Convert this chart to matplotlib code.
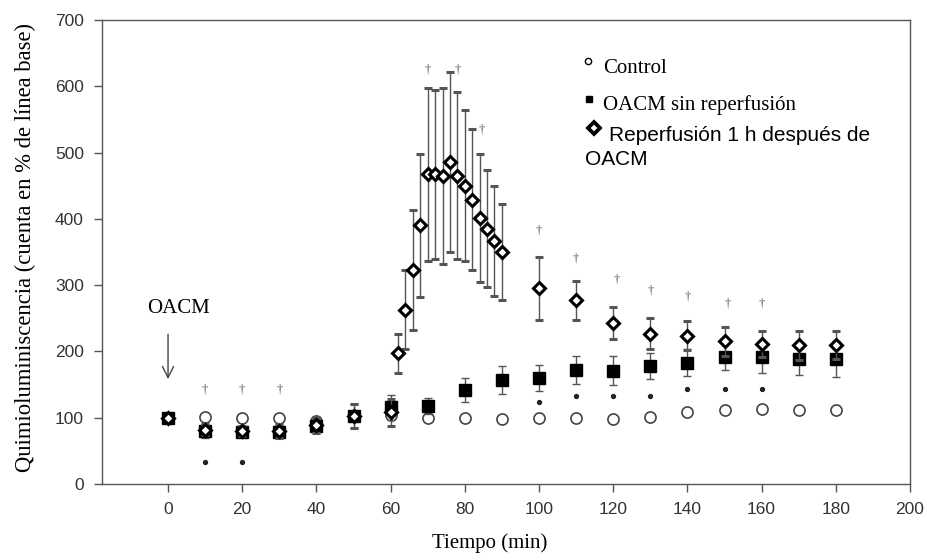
import numpy as np
import matplotlib
matplotlib.use("Agg")
import matplotlib.pyplot as plt
from matplotlib.lines import Line2D

# --- data ---
t_ctrl = [0, 10, 20, 30, 40, 50, 60, 70, 80, 90, 100, 110, 120, 130, 140, 150, 160, 170, 180]
ctrl = [100, 101, 99, 99, 95, 103, 104, 100, 99, 98, 100, 100, 98, 101, 108, 112, 113, 111, 112]

t_sq = [0, 10, 20, 30, 40, 50, 60, 70, 80, 90, 100, 110, 120, 130, 140, 150, 160, 170, 180]
sq = [100, 80, 79, 79, 88, 102, 116, 118, 142, 157, 160, 172, 171, 178, 183, 192, 191, 188, 189]
sq_err = [3, 10, 8, 10, 10, 18, 19, 12, 18, 21, 20, 21, 22, 20, 20, 20, 23, 24, 27]

t_di = [0, 10, 20, 30, 40, 50, 60, 62, 64, 66, 68, 70, 72, 74, 76, 78, 80, 82, 84, 86, 88, 90,
        100, 110, 120, 130, 140, 150, 160, 170, 180]
di = [100, 82, 80, 80, 89, 103, 108, 197, 263, 323, 390, 467, 467, 465, 486, 465, 450, 429, 401,
      385, 366, 350, 295, 277, 243, 227, 224, 215, 211, 209, 210]
di_err = [3, 8, 8, 10, 12, 18, 20, 30, 60, 90, 108, 130, 127, 133, 136, 126, 114, 106, 97, 88,
          83, 72, 47, 30, 24, 23, 22, 22, 20, 22, 21]

dag_x = [10, 20, 30, 70, 78, 84.5, 100, 110, 121, 130, 140, 151, 160]
dag_y = [142, 142, 142, 625, 625, 535, 382, 340, 309, 292, 283, 272, 272]

dot_x = [10, 20, 100, 110, 120, 130, 140, 150, 160]
dot_y = [33, 33, 124, 133, 133, 133, 144, 144, 144]

xticks = list(range(0, 201, 20))
yticks = list(range(0, 701, 100))

W, H = 926, 553
fig = plt.figure(figsize=(W / 100, H / 100), dpi=100)
ax = fig.add_axes([102 / W, 1 - 484 / H, (910 - 102) / W, (484 - 20) / H])

serif = ["Liberation Serif", "DejaVu Serif"]
sans = ["Liberation Sans", "DejaVu Sans"]

ax.plot(t_ctrl, ctrl, 'o', ms=8, mfc='white', mec='#444444', mew=1.2, zorder=3)
ax.errorbar(t_sq, sq, yerr=sq_err, fmt='s', ms=8, mfc='black', mec='black',
            ecolor='#555555', elinewidth=1, capsize=3, capthick=1, zorder=4)
ax.errorbar(t_di, di, yerr=di_err, fmt='D', ms=5.8, mfc='white', mec='black', mew=2.2,
            ecolor='#555555', elinewidth=1, capsize=3, capthick=1, zorder=5)

for x, y in zip(dag_x, dag_y):
    ax.text(x, y, "\u2020", fontsize=9, color='#555555', ha='center', va='center',
            family=serif)
ax.plot(dot_x, dot_y, 'o', ms=2.8, color='#222222', zorder=6)

ax.annotate("", xy=(0, 154), xytext=(0, 230),
            arrowprops=dict(arrowstyle='->', lw=1, color='#444444', mutation_scale=20))
ax.text(2.7, 265, "OACM", fontsize=15, family=serif, ha='center', va='center')

ax.set_xlim(-17.8, 200)
ax.set_ylim(0, 700)
ax.set_xticks(xticks)
ax.set_yticks(yticks)
for s in ax.spines.values():
    s.set_color('#555555')
    s.set_linewidth(1)
ax.tick_params(direction='out', length=6, width=1, color='#555555',
               labelsize=12.5, labelcolor='#333333', pad=7)
for lab in ax.get_xticklabels() + ax.get_yticklabels():
    lab.set_family(sans)

fig.text(490 / W, 1 - 543 / H, "Tiempo (min)", fontsize=15, family=serif,
         ha='center', va='center')
fig.text(25 / W, 1 - 248 / H, "Quimioluminiscencia (cuenta en % de l\u00ednea base)",
         fontsize=16.3, family=serif, rotation=90, ha='center', va='center')

# legend drawn by hand to keep the original wrapping
fig.add_artist(Line2D([588 / W], [1 - 61 / H], marker='o', ms=4.5, mfc='white',
                      mec='black', mew=1, transform=fig.transFigure))
fig.text(603 / W, 1 - 72.7 / H, "Control", fontsize=15, family=serif, va='baseline')
fig.add_artist(Line2D([589 / W], [1 - 99 / H], marker='s', ms=5, mfc='black',
                      mec='black', transform=fig.transFigure))
fig.text(603 / W, 1 - 110 / H, "OACM sin reperfusi\u00f3n", fontsize=15, family=serif,
         va='baseline')
fig.add_artist(Line2D([594 / W], [1 - 128 / H], marker='D', ms=6.5, mfc='white',
                      mec='black', mew=2.7, transform=fig.transFigure))
fig.text(609 / W, 1 - 141 / H, "Reperfusi\u00f3n 1 h despu\u00e9s de", fontsize=15,
         family=sans, va='baseline')
fig.text(585 / W, 1 - 165 / H, "OACM", fontsize=15, family=sans, va='baseline')

fig.savefig("out.png", dpi=100)
